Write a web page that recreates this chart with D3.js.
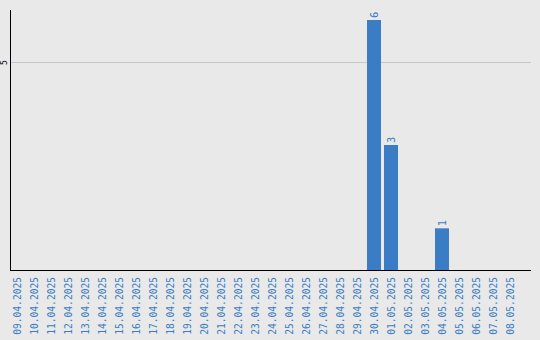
<!DOCTYPE html>
<html>
<head>
<meta charset="utf-8">
<script src="https://cdn.jsdelivr.net/npm/d3@7"></script>
<style>
  html, body { margin: 0; padding: 0; background: #e9e9e9; }
  svg { display: block; }
  text { font-family: "DejaVu Sans Mono", monospace; }
</style>
</head>
<body>
<svg id="chart" width="540" height="340"></svg>
<script>
// Daily counts, 09.04.2025 – 08.05.2025
const dates = [
  "09.04.2025","10.04.2025","11.04.2025","12.04.2025","13.04.2025","14.04.2025",
  "15.04.2025","16.04.2025","17.04.2025","18.04.2025","19.04.2025","20.04.2025",
  "21.04.2025","22.04.2025","23.04.2025","24.04.2025","25.04.2025","26.04.2025",
  "27.04.2025","28.04.2025","29.04.2025","30.04.2025","01.05.2025","02.05.2025",
  "03.05.2025","04.05.2025","05.05.2025","06.05.2025","07.05.2025","08.05.2025"
];
const counts = [
  0,0,0,0,0,0,0,0,0,0,0,0,0,0,0,0,0,0,0,0,0,6,3,0,0,1,0,0,0,0
];
const yTicks = [5];

(function () {
  const svg = d3.select("#chart");
  const blue = "#3a7dc4";
  const pLeft = 10, pRight = 531, pTop = 10, pBottom = 270;

  const x = d3.scaleBand()
    .domain(dates)
    .range([pLeft, pLeft + 507])
    .paddingInner(3 / 17)
    .paddingOuter(0)
    .align(0);

  const y = d3.scaleLinear()
    .domain([0, 6.24])
    .range([pBottom, pTop]);

  const rows = dates.map((d, i) => ({ d, v: counts[i] })).filter(o => o.v > 0);

  // gridlines
  svg.append("g")
    .selectAll("line")
    .data(yTicks)
    .join("line")
    .attr("x1", pLeft).attr("x2", pRight)
    .attr("y1", d => Math.round(y(d)) + 0.5)
    .attr("y2", d => Math.round(y(d)) + 0.5)
    .attr("stroke", "#c6c6c6")
    .attr("stroke-width", 1);

  // y tick labels, rotated
  svg.append("g")
    .selectAll("text")
    .data(yTicks)
    .join("text")
    .attr("transform", d => `translate(7,${y(d) + 1}) rotate(-90)`)
    .attr("text-anchor", "middle")
    .attr("font-size", 8)
    .attr("fill", "#000")
    .text(d => d);

  // bars
  svg.append("g")
    .selectAll("rect")
    .data(rows)
    .join("rect")
    .attr("x", o => x(o.d))
    .attr("width", x.bandwidth())
    .attr("y", o => y(o.v))
    .attr("height", o => y(0) - y(o.v))
    .attr("fill", blue);

  // value labels above bars
  svg.append("g")
    .selectAll("text")
    .data(rows)
    .join("text")
    .attr("transform", o => `translate(${x(o.d) + x.bandwidth() / 2 + 4},${y(o.v) - 2}) rotate(-90)`)
    .attr("text-anchor", "start")
    .attr("font-size", 10.5)
    .attr("fill", blue)
    .text(o => o.v);

  // axis lines
  svg.append("line")
    .attr("x1", pLeft + 0.5).attr("x2", pLeft + 0.5)
    .attr("y1", pTop).attr("y2", pBottom + 1)
    .attr("stroke", "#000").attr("stroke-width", 1);
  svg.append("line")
    .attr("x1", pLeft).attr("x2", pRight)
    .attr("y1", pBottom + 0.5).attr("y2", pBottom + 0.5)
    .attr("stroke", "#000").attr("stroke-width", 1);

  // date labels, rotated
  svg.append("g")
    .selectAll("text")
    .data(dates)
    .join("text")
    .attr("transform", d => `translate(${x(d) + x.bandwidth() / 2 + 3.5},277) rotate(-90)`)
    .attr("text-anchor", "end")
    .attr("font-size", 9.6)
    .attr("fill", blue)
    .text(d => d);
})();
</script>
</body>
</html>
